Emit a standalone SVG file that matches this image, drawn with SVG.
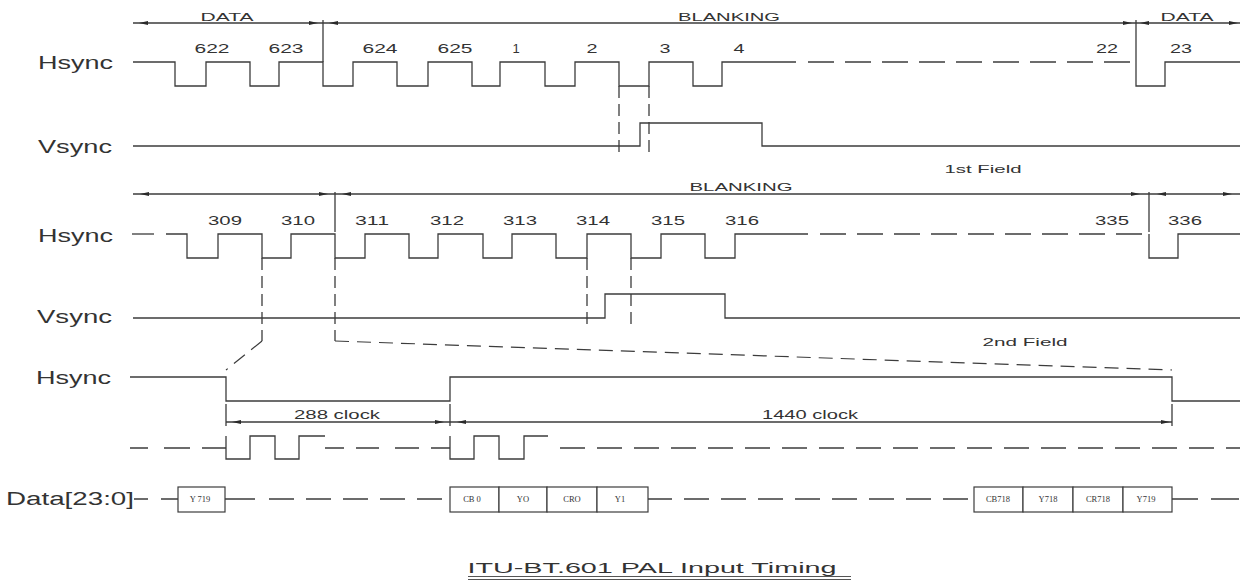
<svg xmlns="http://www.w3.org/2000/svg" width="1243" height="581" viewBox="0 0 1243 581">
<style>
.w{fill:none;stroke:#3c3c3c;stroke-width:1.3}
.d{fill:none;stroke:#3c3c3c;stroke-width:1.3;stroke-dasharray:26 11}
.v{fill:none;stroke:#3c3c3c;stroke-width:1.3;stroke-dasharray:12 6}
.s{fill:none;stroke:#3c3c3c;stroke-width:1.2;stroke-dasharray:14 8}
.t{font-family:"Liberation Sans",Arial,sans-serif;fill:#333}
.lab{font-size:18px}
.num{font-size:13px;text-anchor:middle}
.sm{font-size:11.5px;text-anchor:middle}
.bx{fill:#fff;stroke:#3c3c3c;stroke-width:1.2}
.bt{font-family:"Liberation Serif","Times New Roman",serif;font-size:8.5px;fill:#333;text-anchor:middle}
.ah{fill:#2a2a2a}
</style>
<defs>
<path id="ar" d="M0,0 L-9,-2 L-9,2 Z"/>
<path id="al" d="M0,0 L9,-2 L9,2 Z"/>
</defs>

<g id="field1-dimension">
<path class="w" d="M133,23 H1240 M323,20 V62 M1136,20 V62"/>
<use href="#al" class="ah" x="139" y="23"/>
<use href="#ar" class="ah" x="318" y="23"/>
<use href="#al" class="ah" x="329" y="23"/>
<use href="#ar" class="ah" x="1132" y="23"/>
<use href="#al" class="ah" x="1140" y="23"/>
<use href="#ar" class="ah" x="1238" y="23"/>
<text class="t sm" x="227" y="21" textLength="53" lengthAdjust="spacingAndGlyphs">DATA</text>
<text class="t sm" x="729" y="21" textLength="102" lengthAdjust="spacingAndGlyphs">BLANKING</text>
<text class="t sm" x="1187" y="21" textLength="53" lengthAdjust="spacingAndGlyphs">DATA</text>
</g>

<g id="hsync1">
<text class="t lab" x="38" y="69" textLength="75" lengthAdjust="spacingAndGlyphs">Hsync</text>
<path class="w" d="M133,62 H175 V86 H206 V62 H250 V86 H279 V62 H323 V86 H353 V62 H397 V86 H428 V62 H472 V86 H500 V62 H545 V86 H575 V62 H619 V86 H649 V62 H693 V86 H722 V62 H796"/>
<path class="d" d="M808,62 H1136"/>
<path class="w" d="M1136,62 V86 H1165 V62 H1240"/>
<text class="t num" x="212" y="53" textLength="35" lengthAdjust="spacingAndGlyphs">622</text>
<text class="t num" x="286" y="53" textLength="35" lengthAdjust="spacingAndGlyphs">623</text>
<text class="t num" x="380" y="53" textLength="35" lengthAdjust="spacingAndGlyphs">624</text>
<text class="t num" x="455" y="53" textLength="35" lengthAdjust="spacingAndGlyphs">625</text>
<text class="t num" x="516" y="53">1</text>
<text class="t num" x="592" y="53" textLength="11" lengthAdjust="spacingAndGlyphs">2</text>
<text class="t num" x="665" y="53" textLength="11" lengthAdjust="spacingAndGlyphs">3</text>
<text class="t num" x="739" y="53" textLength="11" lengthAdjust="spacingAndGlyphs">4</text>
<text class="t num" x="1107" y="53" textLength="22" lengthAdjust="spacingAndGlyphs">22</text>
<text class="t num" x="1181" y="53" textLength="22" lengthAdjust="spacingAndGlyphs">23</text>
</g>

<g id="vsync1">
<text class="t lab" x="38" y="153" textLength="74" lengthAdjust="spacingAndGlyphs">Vsync</text>
<path class="w" d="M133,146 H640 V123 H762 V146 H1240"/>
<text class="t sm" x="983" y="173" textLength="77" lengthAdjust="spacingAndGlyphs">1st Field</text>
</g>

<g id="field2-dimension">
<path class="w" d="M133,194 H1240 M335,192 V232 M1149,192 V232"/>
<use href="#al" class="ah" x="140" y="194"/>
<use href="#ar" class="ah" x="328" y="194"/>
<use href="#al" class="ah" x="342" y="194"/>
<use href="#ar" class="ah" x="1140" y="194"/>
<use href="#al" class="ah" x="1157" y="194"/>
<use href="#ar" class="ah" x="1232" y="194"/>
<text class="t sm" x="741" y="191" textLength="103" lengthAdjust="spacingAndGlyphs">BLANKING</text>
</g>

<g id="hsync2">
<text class="t lab" x="38" y="242" textLength="75" lengthAdjust="spacingAndGlyphs">Hsync</text>
<path class="w" d="M132,234 H154"/>
<path class="w" d="M166,234 H187 V258 H218 V234 H262 V258 H291 V234 H335 V258 H365 V234 H409 V258 H438 V234 H483 V258 H512 V234 H556 V258 H587 V234 H631 V258 H661 V234 H705 V258 H735 V234 H808"/>
<path class="d" d="M820,234 H1149"/>
<path class="w" d="M1149,234 V258 H1178 V234 H1240"/>
<text class="t num" x="225" y="225" textLength="34" lengthAdjust="spacingAndGlyphs">309</text>
<text class="t num" x="298" y="225" textLength="34" lengthAdjust="spacingAndGlyphs">310</text>
<text class="t num" x="372" y="225" textLength="34" lengthAdjust="spacingAndGlyphs">311</text>
<text class="t num" x="447" y="225" textLength="34" lengthAdjust="spacingAndGlyphs">312</text>
<text class="t num" x="520" y="225" textLength="34" lengthAdjust="spacingAndGlyphs">313</text>
<text class="t num" x="593" y="225" textLength="34" lengthAdjust="spacingAndGlyphs">314</text>
<text class="t num" x="668" y="225" textLength="34" lengthAdjust="spacingAndGlyphs">315</text>
<text class="t num" x="742" y="225" textLength="34" lengthAdjust="spacingAndGlyphs">316</text>
<text class="t num" x="1112" y="225" textLength="34" lengthAdjust="spacingAndGlyphs">335</text>
<text class="t num" x="1185" y="225" textLength="34" lengthAdjust="spacingAndGlyphs">336</text>
</g>

<g id="vsync2">
<text class="t lab" x="37" y="323" textLength="75" lengthAdjust="spacingAndGlyphs">Vsync</text>
<path class="w" d="M133,318 H605 V294 H725 V318 H1240"/>
<text class="t sm" x="1025" y="346" textLength="85" lengthAdjust="spacingAndGlyphs">2nd Field</text>
</g>

<g id="hsync3">
<text class="t lab" x="36" y="384" textLength="75" lengthAdjust="spacingAndGlyphs">Hsync</text>
<path class="w" d="M130,377 H226 V401 H450 V377 H1172 V401 H1240"/>
</g>

<g id="clock-dimension">
<path class="w" d="M226,404 V426 M450,404 V426 M1172,404 V426 M226,422 H1172"/>
<use href="#al" class="ah" x="232" y="422"/>
<use href="#ar" class="ah" x="444" y="422"/>
<use href="#al" class="ah" x="457" y="422"/>
<use href="#ar" class="ah" x="1170" y="422"/>
<text class="t num" x="337" y="419" textLength="86" lengthAdjust="spacingAndGlyphs">288 clock</text>
<text class="t num" x="810" y="419" textLength="96" lengthAdjust="spacingAndGlyphs">1440 clock</text>
</g>

<g id="pixel-clock">
<path class="w" d="M130,448 H148 M164,448 H190 M202,448 H226"/>
<path class="w" d="M226,436 V459 H250 V436 H275 V459 H299 V436 H325"/>
<path class="w" d="M325,448 H344 M356,448 H379 M395,448 H419 M431,448 H450"/>
<path class="w" d="M450,436 V459 H474 V436 H499 V459 H524 V436 H548"/>
<path class="w" d="M548,448 H1240" style="stroke-dasharray:25 12;stroke-dashoffset:-12"/>
</g>

<g id="data-bus">
<text class="t lab" x="6" y="505" textLength="128" lengthAdjust="spacingAndGlyphs">Data[23:0]</text>
<path class="w" d="M134,499 H148 M161,499 H178 M225,499 H255 M648,499 H672 M1172,499 H1198 M1211,499 H1239"/>
<path class="w" d="M269,499 H450" style="stroke-dasharray:25 12"/>
<path class="w" d="M684,499 H974" style="stroke-dasharray:25 12"/>
<rect class="bx" x="178" y="487" width="47" height="25"/>
<text class="bt" x="200" y="502">Y 719</text>
<rect class="bx" x="450" y="487" width="49" height="25"/>
<text class="bt" x="472" y="502">CB 0</text>
<rect class="bx" x="499" y="487" width="48" height="25"/>
<text class="bt" x="523" y="502">YO</text>
<rect class="bx" x="547" y="487" width="50" height="25"/>
<text class="bt" x="572" y="502">CRO</text>
<rect class="bx" x="597" y="487" width="51" height="25"/>
<text class="bt" x="620" y="502">Y1</text>
<rect class="bx" x="974" y="487" width="49" height="25"/>
<text class="bt" x="998" y="502">CB718</text>
<rect class="bx" x="1023" y="487" width="50" height="25"/>
<text class="bt" x="1048" y="502">Y718</text>
<rect class="bx" x="1073" y="487" width="50" height="25"/>
<text class="bt" x="1098" y="502">CR718</text>
<rect class="bx" x="1123" y="487" width="49" height="25"/>
<text class="bt" x="1146" y="502">Y719</text>
</g>

<g id="connectors">
<path class="v" d="M619,86 V156 M649,86 V156"/>
<path class="v" d="M587,258 V326 M631,258 V326"/>
<path class="v" d="M262,258 V341 M335,258 V341"/>
<path class="s" d="M262,341 L226,370"/>
<path class="s" d="M335,341 L1172,370"/>
</g>

<g id="title">
<text class="t" x="652" y="573" style="font-size:15px;text-anchor:middle" textLength="369" lengthAdjust="spacingAndGlyphs">ITU-BT.601 PAL Input Timing</text>
<path d="M468,576.5 H851 M468,579.5 H851" stroke="#555" stroke-width="1"/>
</g>
</svg>
